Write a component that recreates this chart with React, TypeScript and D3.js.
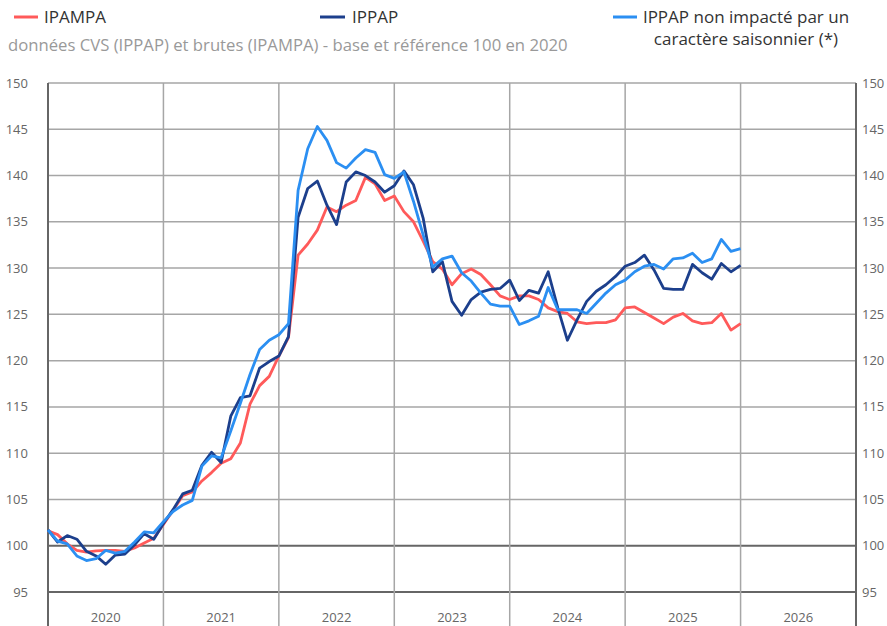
import React from "react";
import * as d3 from "d3";

// monthly values, Jan 2020 -> Jan 2026
const ipampa = [
  101.6, 101.2, 100.2, 99.5, 99.3, 99.45, 99.5, 99.5, 99.4, 99.75, 100.3, 100.8,
  102.3, 103.8, 105.4, 105.8, 107.0, 107.9, 108.9, 109.4, 111.1, 115.3, 117.3, 118.3,
  120.5, 122.5, 131.4, 132.6, 134.1, 136.6, 136.1, 136.8, 137.3, 139.8, 139.1, 137.3,
  137.8, 136.1, 135.0, 132.9, 130.7, 129.9, 128.2, 129.4, 129.9, 129.3, 128.2, 127.0,
  126.6, 127.0, 127.0, 126.6, 125.7, 125.3, 125.1, 124.2, 124.0, 124.1, 124.1, 124.4,
  125.7, 125.8, 125.2, 124.6, 124.0, 124.7, 125.1, 124.3, 124.0, 124.1, 125.1, 123.3,
  124.0,
];

const ippap = [
  101.7, 100.4, 101.1, 100.7, 99.4, 98.9, 98.0, 99.0, 99.1, 100.1, 101.3, 100.7,
  102.4, 103.9, 105.6, 106.0, 108.7, 110.1, 109.0, 114.0, 116.0, 116.2, 119.2, 119.9,
  120.5, 122.6, 135.5, 138.6, 139.4, 136.8, 134.7, 139.3, 140.4, 140.0, 139.3, 138.2,
  138.9, 140.5, 139.0, 135.4, 129.6, 130.7, 126.4, 124.9, 126.6, 127.4, 127.7, 127.8,
  128.7, 126.5, 127.6, 127.3, 129.6, 125.7, 122.2, 124.4, 126.4, 127.5, 128.2, 129.1,
  130.2, 130.6, 131.4, 129.8, 127.8, 127.7, 127.7, 130.4, 129.5, 128.8, 130.5, 129.6,
  130.3,
];

const ippapNonSaison = [
  101.7, 100.5, 100.2, 98.9, 98.4, 98.6, 99.5, 99.2, 99.4, 100.4, 101.5, 101.4,
  102.6, 103.7, 104.4, 104.9, 108.6, 109.7, 109.5, 112.4, 115.4, 118.5, 121.2, 122.2,
  122.8, 124.0, 138.4, 142.9, 145.3, 143.8, 141.4, 140.8, 141.9, 142.8, 142.5, 140.1,
  139.7, 140.4, 137.2, 133.6, 130.1, 131.0, 131.3, 129.5, 128.6, 127.3, 126.1, 125.9,
  125.9, 123.9, 124.3, 124.8, 127.9, 125.5, 125.5, 125.5, 125.1, 126.2, 127.3, 128.2,
  128.7, 129.6, 130.2, 130.4, 129.9, 131.0, 131.1, 131.6, 130.6, 131.0, 133.1, 131.8,
  132.1,
];

const years = ["2020", "2021", "2022", "2023", "2024", "2025", "2026"];
const yTicks = [95, 100, 105, 110, 115, 120, 125, 130, 135, 140, 145, 150];

const W = 887;
const H = 626;
const left = 48;
const right = 856;
const top = 83;
const bottom = 592;

const series = [
  { name: "IPAMPA", values: ipampa, color: "#ff5a5a" },
  { name: "IPPAP", values: ippap, color: "#1c3f8c" },
  { name: "IPPAP non impacté", values: ippapNonSaison, color: "#2b8ff2" },
];

export default function App() {
  const x = d3.scaleLinear().domain([0, years.length * 12]).range([left, right]);
  const y = d3.scaleLinear().domain([95, 150]).range([bottom, top]);
  const line = d3
    .line<number>()
    .x((_, i) => x(i))
    .y((d) => y(d));

  const font = "'Open Sans', sans-serif";
  const yearTicks = d3.range(0, years.length * 12 + 1, 12);

  return (
    <div style={{ position: "absolute", left: 0, top: 0 }}>
      <svg width={W} height={H} style={{ display: "block", fontFamily: font }}>
        <rect width={W} height={H} fill="#fff" />

        {/* legend */}
        <line x1={14} x2={38} y1={17} y2={17} stroke={series[0].color} strokeWidth={3} />
        <text x={44} y={23} fontSize={17} fill="#333">IPAMPA</text>
        <line x1={320} x2={345} y1={17} y2={17} stroke={series[1].color} strokeWidth={3} />
        <text x={352} y={23} fontSize={17} fill="#333">IPPAP</text>
        <line x1={613} x2={637} y1={17} y2={17} stroke={series[2].color} strokeWidth={3} />
        <text x={746} y={23} fontSize={17} fill="#333" textAnchor="middle">IPPAP non impacté par un</text>
        <text x={746} y={45} fontSize={17} fill="#333" textAnchor="middle">caractère saisonnier (*)</text>

        <text x={8} y={51} fontSize={16.7} fill="#999">
          données CVS (IPPAP) et brutes (IPAMPA) - base et référence 100 en 2020
        </text>

        {/* horizontal grid */}
        {yTicks.map((t) => (
          <g key={t}>
            <line
              x1={left}
              x2={right}
              y1={y(t)}
              y2={y(t)}
              stroke={t === 100 || t === 95 ? "#666" : "#a6a6a6"}
              strokeWidth={t === 100 || t === 95 ? 2 : 1.5}
            />
            <text x={28} y={y(t) + 4.5} fontSize={13} fill="#666" textAnchor="end">{t}</text>
            <text x={862} y={y(t) + 4.5} fontSize={13} fill="#666">{t}</text>
          </g>
        ))}

        {/* vertical grid + year labels */}
        {yearTicks.map((m, i) => (
          <line
            key={m}
            x1={x(m)}
            x2={x(m)}
            y1={top}
            y2={H}
            stroke={i === 0 || i === yearTicks.length - 1 ? "#666" : "#a6a6a6"}
            strokeWidth={i === 0 || i === yearTicks.length - 1 ? 2 : 1.5}
          />
        ))}
        {years.map((yr, i) => (
          <text key={yr} x={x(i * 12 + 6)} y={622} fontSize={13} fill="#666" textAnchor="middle">
            {yr}
          </text>
        ))}

        {/* series */}
        {series.map((s) => (
          <path
            key={s.name}
            d={line(s.values) || ""}
            fill="none"
            stroke={s.color}
            strokeWidth={2.8}
            strokeLinejoin="round"
          />
        ))}
      </svg>
    </div>
  );
}
